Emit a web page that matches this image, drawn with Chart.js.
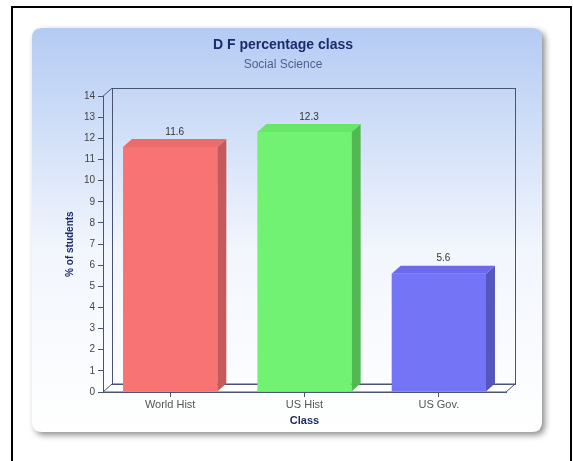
<!DOCTYPE html>
<html>
<head>
<meta charset="utf-8">
<script src="https://cdn.jsdelivr.net/npm/chart.js@4/dist/chart.umd.min.js"></script>
<style>
html,body{margin:0;padding:0;background:#fff;}
#wrap{position:relative;width:573px;height:461px;}
</style>
</head>
<body>
<div id="wrap"><canvas id="c" width="573" height="461"></canvas></div>
<script>
const categories = ["World Hist", "US Hist", "US Gov."];
const values = [11.6, 12.3, 5.6];
const yTicks = [0,1,2,3,4,5,6,7,8,9,10,11,12,13,14];
const frontColors = ["#f87474", "#72f272", "#7474f6"];
const sideColors = ["#c45a5a", "#52b852", "#5656c0"];
const topColors = ["#ec6c6c", "#68e668", "#6a6aea"];

const DX = 9, DY = -8;
const FONT = '"Liberation Sans", Arial, sans-serif';

const panelPlugin = {
  id: 'panel',
  beforeDraw(chart) {
    const ctx = chart.ctx;
    ctx.save();
    ctx.strokeStyle = '#000';
    ctx.lineWidth = 2;
    ctx.strokeRect(12, 7, 559, 460);
    const x = 32, y = 28, w = 510, h = 404, r = 10;
    const path = () => {
      ctx.beginPath();
      ctx.moveTo(x + r, y);
      ctx.lineTo(x + w - r, y);
      ctx.quadraticCurveTo(x + w, y, x + w, y + r);
      ctx.lineTo(x + w, y + h - r);
      ctx.quadraticCurveTo(x + w, y + h, x + w - r, y + h);
      ctx.lineTo(x + r, y + h);
      ctx.quadraticCurveTo(x, y + h, x, y + h - r);
      ctx.lineTo(x, y + r);
      ctx.quadraticCurveTo(x, y, x + r, y);
      ctx.closePath();
    };
    ctx.shadowColor = 'rgba(0,0,0,0.45)';
    ctx.shadowBlur = 6;
    ctx.shadowOffsetX = 3;
    ctx.shadowOffsetY = 3;
    const g = ctx.createLinearGradient(0, y, 0, y + h);
    g.addColorStop(0, '#b4cbf3');
    g.addColorStop(0.55, '#f2f6fd');
    g.addColorStop(1, '#ffffff');
    ctx.fillStyle = g;
    path();
    ctx.fill();
    ctx.restore();
  }
};

const box3dPlugin = {
  id: 'box3d',
  beforeDatasetsDraw(chart) {
    const ctx = chart.ctx;
    const a = chart.chartArea;
    const L = a.left, R = a.right, T = a.top, B = a.bottom;
    ctx.save();
    ctx.lineWidth = 1;
    ctx.strokeStyle = '#4a5470';
    ctx.beginPath();
    ctx.moveTo(L, B); ctx.lineTo(R, B); ctx.lineTo(R + DX, B + DY); ctx.lineTo(L + DX, B + DY); ctx.closePath();
    ctx.fillStyle = '#ffffff';
    ctx.fill();
    ctx.stroke();
    ctx.strokeRect(Math.round(L + DX) + 0.5, Math.round(T + DY) + 0.5, Math.round(R - L), Math.round(B - T));
    ctx.beginPath();
    ctx.moveTo(L, T); ctx.lineTo(L + DX, T + DY);
    ctx.stroke();
    ctx.restore();
  },
  afterDatasetsDraw(chart) {
    const ctx = chart.ctx;
    const meta = chart.getDatasetMeta(0);
    ctx.save();
    meta.data.forEach((bar, i) => {
      const p = bar.getProps(['x', 'y', 'base', 'width'], true);
      const l = p.x - p.width / 2, r = p.x + p.width / 2;
      ctx.beginPath();
      ctx.moveTo(r, p.y); ctx.lineTo(r + DX, p.y + DY); ctx.lineTo(r + DX, p.base + DY); ctx.lineTo(r, p.base);
      ctx.closePath();
      ctx.fillStyle = sideColors[i];
      ctx.fill();
      ctx.beginPath();
      ctx.moveTo(l, p.y); ctx.lineTo(r, p.y); ctx.lineTo(r + DX, p.y + DY); ctx.lineTo(l + DX, p.y + DY);
      ctx.closePath();
      ctx.fillStyle = topColors[i];
      ctx.fill();
      ctx.fillStyle = '#333';
      ctx.font = '10px ' + FONT;
      ctx.textAlign = 'center';
      ctx.textBaseline = 'bottom';
      ctx.fillText(String(values[i]), p.x + DX / 2, p.y + DY - 2);
    });
    ctx.restore();
  }
};

new Chart(document.getElementById('c'), {
  type: 'bar',
  data: {
    labels: categories,
    datasets: [{
      data: values,
      backgroundColor: frontColors,
      borderWidth: 0,
      barPercentage: 0.78,
      categoryPercentage: 0.9
    }]
  },
  options: {
    responsive: false,
    animation: false,
    devicePixelRatio: 1,
    layout: { padding: { top: 32, left: 60, right: 67, bottom: 29 } },
    plugins: {
      legend: { display: false },
      tooltip: { enabled: false },
      title: {
        display: true,
        text: 'D F percentage class',
        color: '#1c2a6e',
        font: { family: FONT, size: 14, weight: 'bold' },
        padding: { top: 5, bottom: 3 }
      },
      subtitle: {
        display: true,
        text: 'Social Science',
        color: '#4f5f90',
        font: { family: FONT, size: 12 },
        padding: { top: 1, bottom: 24 }
      }
    },
    scales: {
      x: {
        offset: true,
        afterFit(s) { s.height = 40; },
        grid: { drawOnChartArea: false, tickLength: 5, color: '#4a5470', offset: false },
        border: { display: true, color: '#4a5470' },
        ticks: { color: '#555', font: { family: FONT, size: 11 }, padding: 1 },
        title: {
          display: true, text: 'Class', color: '#1c2a6e',
          font: { family: FONT, size: 11, weight: 'bold' },
          padding: { top: 0, bottom: 4 }
        }
      },
      y: {
        min: 0, max: 14,
        afterFit(s) { s.width = 43; },
        afterBuildTicks(s) { s.ticks = yTicks.map(v => ({ value: v })); },
        grid: { drawOnChartArea: false, tickLength: 5, color: '#4a5470' },
        border: { display: true, color: '#4a5470' },
        ticks: { color: '#444', font: { family: FONT, size: 10 }, padding: 3 },
        title: {
          display: true, text: '% of students', color: '#1c2a6e',
          font: { family: FONT, size: 10, weight: 'bold' },
          padding: { top: 4, bottom: 0 }
        }
      }
    }
  },
  plugins: [panelPlugin, box3dPlugin]
});
</script>
</body>
</html>
